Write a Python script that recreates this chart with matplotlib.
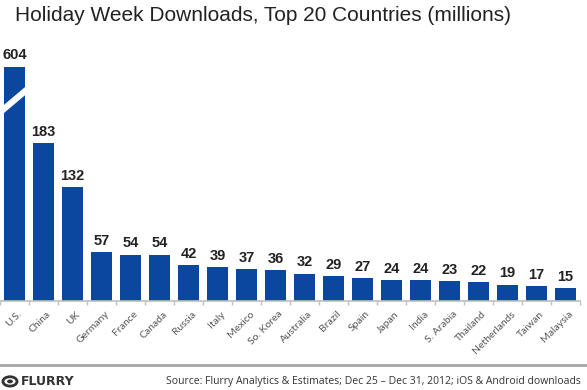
import matplotlib
matplotlib.use("Agg")
import matplotlib.pyplot as plt
import numpy as np
from matplotlib.patches import Circle

countries = ["U.S.", "China", "UK", "Germany", "France", "Canada", "Russia", "Italy",
             "Mexico", "So. Korea", "Australia", "Brazil", "Spain", "Japan", "India",
             "S. Arabia", "Thailand", "Netherlands", "Taiwan", "Malaysia"]
downloads = [604, 183, 132, 57, 54, 54, 42, 39, 37, 36, 32, 29, 27, 24, 24, 23, 22, 19, 17, 15]
axis_cap = 272  # the U.S. bar is drawn truncated (broken axis)

title = "Holiday Week Downloads, Top 20 Countries (millions)"
source = "Source: Flurry Analytics & Estimates; Dec 25 \u2013 Dec 31, 2012; iOS & Android downloads"

bar_color = "#0b479e"

fig = plt.figure(figsize=(5.87, 3.9), dpi=100)
ax = fig.add_axes([0.0, 0.228, 0.988, 0.645])

x = np.arange(len(countries))
shown = [min(v, axis_cap) for v in downloads]
ax.bar(x, shown, width=0.72, color=bar_color, zorder=2)
ax.set_xlim(-0.5, len(countries) - 0.5)
ax.set_ylim(0, 292)

for xi, v, s in zip(x, downloads, shown):
    ax.text(xi, s + 5, str(v), ha="center", va="bottom", fontsize=10.5,
            fontweight="bold", family=["Liberation Sans", "DejaVu Sans"], color="#222222")

# break marker on the U.S. bar
ax.plot([-0.47, 0.62], [220, 251], color="white", lw=4.5, solid_capstyle="butt", zorder=3)

for s in ["top", "right", "left"]:
    ax.spines[s].set_visible(False)
ax.spines["bottom"].set_color("#bfbfbf")
ax.spines["bottom"].set_linewidth(1.2)
ax.set_yticks([])
ax.set_xticks(x + 0.1)
ax.set_xticklabels(countries, rotation=45, ha="right", rotation_mode="anchor",
                   fontsize=7.5, color="#555555", family=["Lato", "DejaVu Sans"])
ax.tick_params(axis="x", length=0, pad=6)
ax.set_xticks(np.arange(-0.5, len(countries), 1.0), minor=True)
ax.tick_params(axis="x", which="minor", length=3, color="#bfbfbf", width=1)

fig.text(0.025, 0.985, title, ha="left", va="top", fontsize=15,
         family=["Liberation Sans", "DejaVu Sans"], color="#222222")

fig.add_artist(plt.Line2D([0, 1], [0.063, 0.063], transform=fig.transFigure,
                          color="#a6a6a6", lw=2))
fig.text(0.036, 0.022, "FLURRY", ha="left", va="center", fontsize=9, fontweight="bold",
         family=["DejaVu Sans"], color="#333333")
circ = Circle((0.017, 0.022), 0.012, transform=fig.transFigure, facecolor="none",
              edgecolor="#333333", lw=2)
fig.add_artist(circ)
fig.add_artist(Circle((0.017, 0.022), 0.005, transform=fig.transFigure, facecolor="#333333",
                      edgecolor="none"))
fig.text(0.99, 0.022, source, ha="right", va="center", fontsize=7.5,
         family=["Open Sans", "DejaVu Sans"], color="#333333")

fig.savefig("out.png", dpi=100)
